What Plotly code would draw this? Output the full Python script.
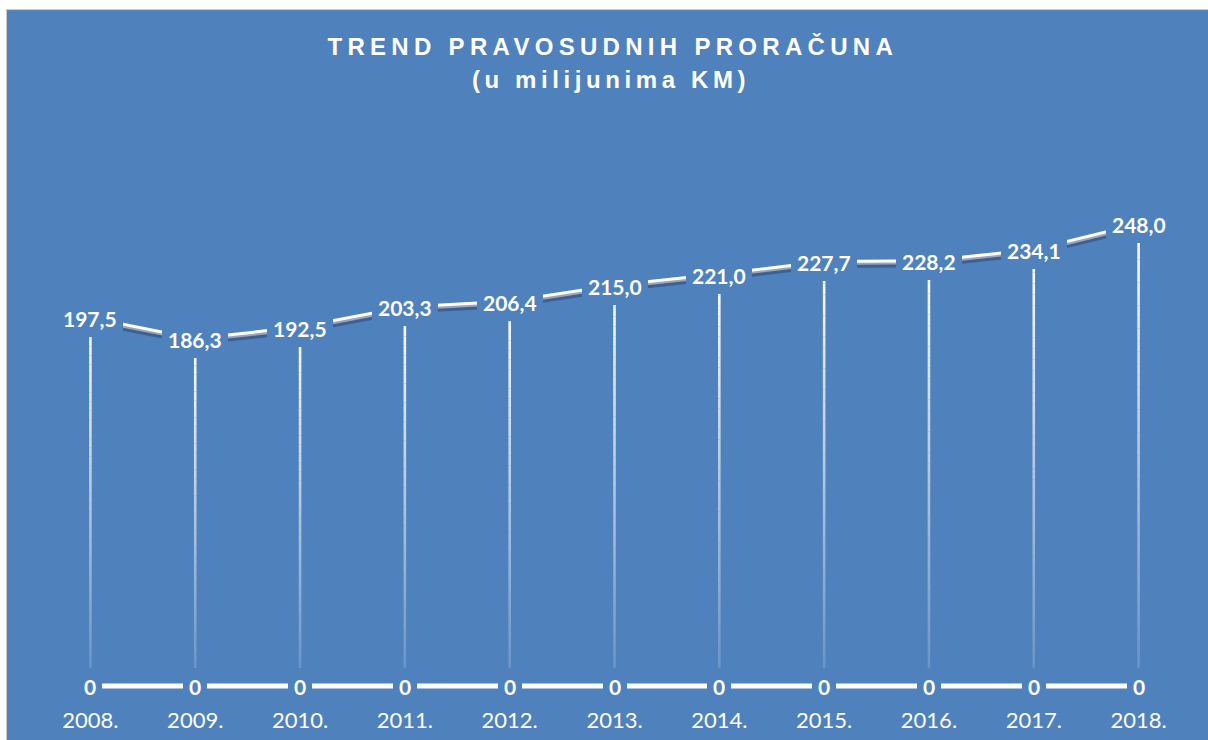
import plotly.graph_objects as go

# ---------------- data ----------------
years = ["2008.", "2009.", "2010.", "2011.", "2012.", "2013.",
         "2014.", "2015.", "2016.", "2017.", "2018."]
budget = [197.5, 186.3, 192.5, 203.3, 206.4, 215.0, 221.0, 227.7, 228.2, 234.1, 248.0]
baseline = [0, 0, 0, 0, 0, 0, 0, 0, 0, 0, 0]
title_line1 = "TREND PRAVOSUDNIH PRORAČUNA"
title_line2 = "(u milijunima KM)"

# ---------------- style / layout constants ----------------
BLUE = "#4F81BD"
WHITE = "#FFFFFF"
W, H = 1208, 740
L, R = 38, 17
PW = W - L - R
ZERO_PX = 686.0
PXU = 1.86
YMIN, YMAX = -8.0, 285.0
B = H - (ZERO_PX + (-YMIN) * PXU)
T = ZERO_PX - YMAX * PXU
PH = H - T - B
SHADOW_PX = 3.0
N_GRAD = 40


def px_x(px):
    return (px - L) / PW


def px_y(py):
    return (H - B - py) / PH


def fmt(v):
    return f"{v:.1f}".replace(".", ",") if v != 0 else "0"


fig = go.Figure()

# drop lines with fading gradient (top white -> bottom transparent)
for k in range(N_GRAD):
    t0 = k / N_GRAD
    t1 = (k + 1) / N_GRAD
    alpha = 1.0 - 0.88 * ((t0 + t1) / 2)
    xs, ys = [], []
    for cat, v, z in zip(years, budget, baseline):
        xs += [cat, cat, None]
        ys += [v - (v - z) * t0, v - (v - z) * t1, None]
    fig.add_trace(go.Scatter(
        x=xs, y=ys, mode="lines",
        line=dict(color=f"rgba(255,255,255,{alpha:.3f})", width=2.6),
        hoverinfo="skip", showlegend=False))

# shadow of main line (drawn on shifted overlay axis)
fig.add_trace(go.Scatter(
    x=years, y=budget, mode="lines", yaxis="y2",
    line=dict(color="rgba(35,55,95,0.45)", width=5),
    hoverinfo="skip", showlegend=False))

# main series and zero series
fig.add_trace(go.Scatter(
    x=years, y=budget, mode="lines",
    line=dict(color=WHITE, width=5),
    hoverinfo="skip", showlegend=False))
fig.add_trace(go.Scatter(
    x=years, y=baseline, mode="lines",
    line=dict(color=WHITE, width=5),
    hoverinfo="skip", showlegend=False))

annotations = []
for series in (budget, baseline):
    for i, v in enumerate(series):
        annotations.append(dict(
            x=i, y=v, xref="x", yref="y", text=fmt(v), showarrow=False,
            xanchor="center", yanchor="middle",
            bgcolor=BLUE, borderpad=6, borderwidth=0,
            font=dict(family="Lato", size=21, color=WHITE, weight="bold")))

annotations.append(dict(
    x=px_x(613), y=px_y(46), xref="paper", yref="paper",
    text=title_line1, showarrow=False, xanchor="center", yanchor="middle",
    font=dict(family="Liberation Sans", size=24, color=WHITE, weight="bold")))
annotations.append(dict(
    x=px_x(611), y=px_y(79), xref="paper", yref="paper",
    text=title_line2, showarrow=False, xanchor="center", yanchor="middle",
    font=dict(family="Liberation Sans", size=24, color=WHITE, weight="bold")))

shapes = [dict(
    type="rect", xref="paper", yref="paper", layer="below",
    x0=px_x(6.5), x1=px_x(W + 5), y0=px_y(9.5), y1=px_y(H + 5),
    fillcolor=BLUE, line=dict(color="#C8C8C8", width=1))]

fig.update_layout(
    width=W, height=H,
    margin=dict(l=L, r=R, t=T, b=B, pad=0, autoexpand=False),
    paper_bgcolor=WHITE, plot_bgcolor="rgba(0,0,0,0)",
    showlegend=False, hovermode=False,
    xaxis=dict(type="category", categoryorder="array", categoryarray=years,
               range=[-0.5, 10.5], showgrid=False, zeroline=False,
               showline=False, ticks="outside", ticklen=0,
               ticklabelstandoff=0,
               tickfont=dict(family="Lato", size=22, color=WHITE),
               automargin=False, fixedrange=True),
    yaxis=dict(range=[YMIN, YMAX], visible=False, fixedrange=True),
    yaxis2=dict(range=[YMIN + SHADOW_PX / PXU, YMAX + SHADOW_PX / PXU],
                overlaying="y", visible=False, fixedrange=True),
    annotations=annotations,
    shapes=shapes,
)

post = """
(function(){
  document.documentElement.style.margin = '0';
  document.body.style.margin = '0';
  document.body.style.padding = '0';
  function apply(){
    var els = document.querySelectorAll('text.annotation-text');
    els.forEach(function(e){
      var t = e.textContent || '';
      if (t.indexOf('TREND') === 0) { e.style.letterSpacing = '5.3px'; }
      else if (t.indexOf('(u ') === 0) { e.style.letterSpacing = '4.6px'; }
    });
  }
  apply();
  setTimeout(apply, 50);
  setTimeout(apply, 300);
})();
"""

fig.write_html("out.html", config={"displayModeBar": False, "staticPlot": True},
               post_script=post)
